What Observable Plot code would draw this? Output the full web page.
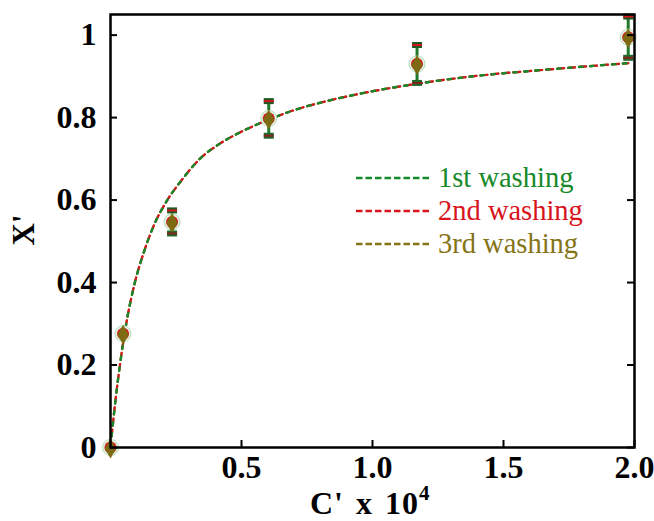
<!DOCTYPE html>
<html>
<head>
<meta charset="utf-8">
<script src="https://cdn.jsdelivr.net/npm/d3@7"></script>
<script src="https://cdn.jsdelivr.net/npm/@observablehq/plot@0.6"></script>
<style>
  body { margin: 0; background: white; }
  #wrap { position: relative; width: 654px; height: 521px; font-family: "Liberation Serif", serif; }
  #legend { position: absolute; left: 356px; top: 161px; font-size: 28.5px; line-height: 33px; }
  #legend .row { display: flex; align-items: center; height: 33px; }
  #legend svg { margin-right: 8px; }
  #xlabel { position: absolute; left: 310px; top: 489px; font-weight: bold; font-size: 32px; letter-spacing: 1px; word-spacing: 3px; white-space: nowrap; line-height: 28px; }
  #xlabel sup { font-size: 21px; line-height: 0; position: relative; top: -2px; }
  #ylabel { position: absolute; left: 24px; top: 230px; font-weight: bold; font-size: 31px; transform: translate(-50%, -50%) rotate(-90deg); white-space: nowrap; }
</style>
</head>
<body>
<div id="wrap">
  <div id="chart"></div>
  <div id="legend"></div>
  <div id="xlabel">C' x 10<sup>4</sup></div>
  <div id="ylabel">X'</div>
</div>
<script>
// ---- data ----
const xTicks = [0.5, 1.0, 1.5, 2.0];
const yTicks = [0, 0.2, 0.4, 0.6, 0.8, 1];

const seriesNames = ["1st washing", "2nd washing", "3rd washing"];
const seriesColors = ["#16892a", "#d8141c", "#857316"];

// fitted curve (the three washings overlap)
const curveC = [0, 0.02, 0.036, 0.06, 0.093, 0.128, 0.17, 0.214, 0.271, 0.341, 0.42, 0.494, 0.604, 0.72, 0.80, 0.952, 1.17, 1.41, 1.639, 1.976];
const curveX = [0, 0.120, 0.200, 0.300, 0.400, 0.475, 0.545, 0.597, 0.648, 0.700, 0.738, 0.764, 0.795, 0.822, 0.836, 0.858, 0.882, 0.902, 0.915, 0.932];

// experimental points
const pointC = [0, 0.048, 0.235, 0.604, 1.17, 1.976];
const pointX = [0, 0.276, 0.547, 0.798, 0.930, 0.995];
const pointErr = [0, 0, 0.028, 0.042, 0.046, 0.05];

// ---- build ----
const curves = seriesNames.flatMap((s, i) => curveC.map((c, j) => ({series: s, c, x: curveX[j]})));
const pts = pointC.map((c, i) => ({c, x: pointX[i], lo: pointX[i] - pointErr[i], hi: pointX[i] + pointErr[i], e: pointErr[i]}));
const bars = pts.filter(d => d.e > 0);

const capOuter = {draw(ctx) { ctx.rect(-5, -3, 10, 6); }};
const capInner = {draw(ctx) { ctx.rect(-5, -1, 10, 2); }};

const W = 654, H = 521, ML = 110, MR = 20, MT = 14, MB = 74;
const fw = W - ML - MR, fh = H - MT - MB;

const line = (name, color, dash, width) => Plot.line(curves.filter(d => d.series === name), {
  x: "c", y: "x", stroke: color, strokeWidth: width, strokeDasharray: dash, curve: "monotone-x"
});

const chart = Plot.plot({
  width: W, height: H,
  marginLeft: ML, marginRight: MR, marginTop: MT, marginBottom: MB,
  style: {fontFamily: "Liberation Serif", fontWeight: "bold", fontSize: "32px", color: "black", background: "white"},
  x: {domain: [0, 2.0], ticks: xTicks, tickFormat: d => d.toFixed(1), tickSize: 0, tickPadding: 8, label: null},
  y: {domain: [0, 1.05], ticks: yTicks, tickFormat: d => (d === 0 || d === 1) ? String(d) : d.toFixed(1), tickSize: 0, tickPadding: 14, label: null},
  marks: [
    line(seriesNames[2], seriesColors[2], "7,4", 2.2),
    line(seriesNames[1], seriesColors[1], "7,4", 2.2),
    line(seriesNames[0], seriesColors[0], "3.5,7.5", 2.4),
    // error bars
    Plot.ruleX(bars, {x: "c", y1: "lo", y2: "hi", stroke: "#1f7a2c", strokeWidth: 3}),
    Plot.dot(bars, {x: "c", y: "hi", symbol: capOuter, fill: "#1d5a26", stroke: "none"}),
    Plot.dot(bars, {x: "c", y: "hi", symbol: capInner, fill: "#d8141c", stroke: "none"}),
    Plot.dot(bars, {x: "c", y: "lo", symbol: capOuter, fill: "#1d6a2a", stroke: "none"}),
    Plot.dot(bars, {x: "c", y: "lo", symbol: capInner, fill: "#8a2020", stroke: "none"}),
    // markers
    Plot.dot(pts, {x: "c", y: "x", r: 8, fill: "#e6f3e6", stroke: "#b5ddb5", strokeWidth: 1}),
    Plot.dot(pts, {x: "c", y: "x", r: 6, fill: "#d8141c", stroke: "none"}),
    Plot.dot(pts, {x: "c", y: "x", symbol: "diamond", r: 6, dy: 1, fill: "#7d6a12", stroke: "none"}),
    // inward ticks
    Plot.tickX(xTicks, {x: d => d, insetTop: fh - 7, stroke: "black", strokeWidth: 2}),
    Plot.tickY(yTicks, {y: d => d, insetRight: fw - 7, stroke: "black", strokeWidth: 2}),
    Plot.tickY(yTicks, {y: d => d, insetLeft: fw - 7, stroke: "black", strokeWidth: 2}),
    Plot.frame({stroke: "black", strokeWidth: 2.5})
  ]
});
document.getElementById("chart").appendChild(chart);

// legend
const leg = document.getElementById("legend");
seriesNames.forEach((s, i) => {
  const row = document.createElement("div");
  row.className = "row";
  row.innerHTML = `<svg width="74" height="8"><line x1="0" x2="74" y1="4" y2="4" stroke="${seriesColors[i]}" stroke-width="2.6" stroke-dasharray="6.5,3"/></svg><span style="color:${seriesColors[i]}">${s}</span>`;
  leg.appendChild(row);
});
</script>
</body>
</html>
